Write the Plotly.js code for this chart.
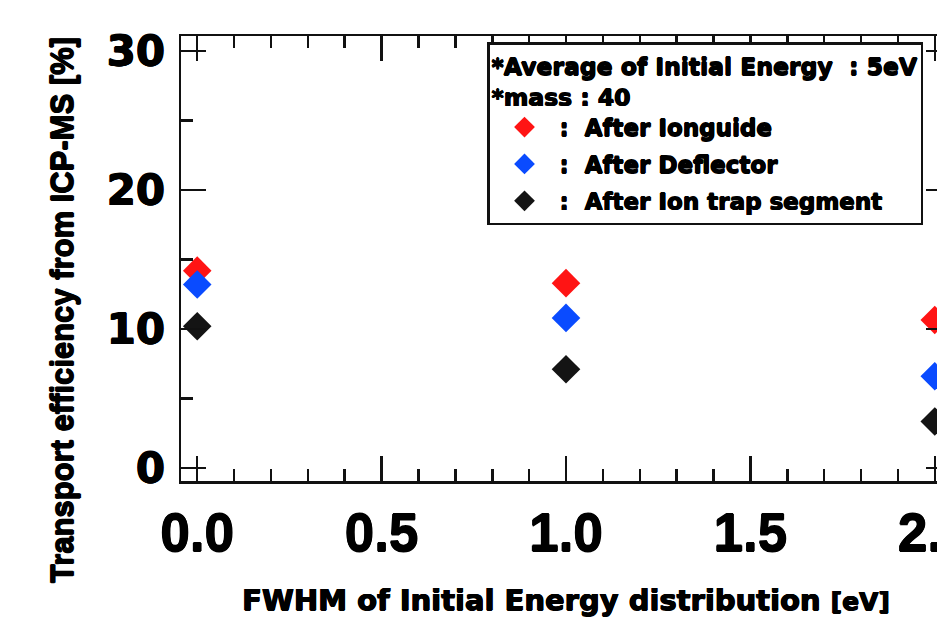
<!DOCTYPE html>
<html><head><meta charset="utf-8">
<script src="https://cdn.plot.ly/plotly-3.0.1.min.js"></script>
<style>html,body{margin:0;padding:0;overflow:hidden;background:#fff;width:937px;height:622px}</style>
</head><body><div id="chart" style="width:1000px;height:622px"></div>
<script>
// ---- data ----
const fwhm = [0.0, 1.0, 2.0];
const afterIonguide = [14.2, 13.3, 10.65];
const afterDeflector = [13.2, 10.8, 6.6];
const afterIonTrap = [10.2, 7.1, 3.35];
const seriesNames = [":  After Ionguide", ":  After Deflector", ":  After Ion trap segment"];
const seriesColors = ["#ff1414", "#0a4bff", "#141414"];
const xTickVals = [0, 0.5, 1.0, 1.5, 2.0];
const xTickText = ["0.0", "0.5", "1.0", "1.5", "2.0"];
const yTickVals = [0, 10, 20, 30];
const yTickText = ["0", "10", "20", "30"];
const legendTitle = "*Average of Initial Energy&nbsp;&nbsp;: 5eV<br>*mass : 40";

const seriesValues = [afterIonguide, afterDeflector, afterIonTrap];
const traces = seriesValues.map((vals, i) => ({
  type: "scatter", mode: "markers",
  x: fwhm, y: vals, name: seriesNames[i], legendgroup: "g" + i,
  marker: {symbol: "diamond", size: 22, color: seriesColors[i], line: {width: 0}},
  cliponaxis: false
}));

const W = 1000, H = 622;
const margin = {l: 181, r: 49, t: 36, b: 141};
const pw = W - margin.l - margin.r, ph = H - margin.t - margin.b;
const px2x = p => (p - margin.l) / pw;
const px2y = p => (H - margin.b - p) / ph;
const heavy = "0.6px 0 0 #000, -0.6px 0 0 #000, 0 0.6px 0 #000, 0 -0.6px 0 #000";

const axisCommon = {
  showline: true, linecolor: "#111", linewidth: 2.5, mirror: "allticks",
  ticks: "inside", ticklen: 25, tickwidth: 2.5, tickcolor: "#111",
  showgrid: false, zeroline: false, fixedrange: true
};

const layout = {
  width: W, height: H, margin: margin,
  paper_bgcolor: "#fff", plot_bgcolor: "#fff",
  showlegend: true,
  xaxis: Object.assign({}, axisCommon, {
    range: [-0.044, 2.044], tickvals: xTickVals, ticktext: xTickText,
    tickfont: {family: "Liberation Sans, Arial, sans-serif", size: 53, color: "#000", weight: "bold", shadow: heavy},
    ticklabelstandoff: 4, ticklabeloverflow: "allow",
    minor: {dtick: 0.1, ticks: "inside", ticklen: 12, tickwidth: 2.5, tickcolor: "#111", showgrid: false},
    title: {text: "FWHM of Initial Energy distribution <span style='font-size:25px'>[eV]</span>",
      font: {family: "DejaVu Sans, sans-serif", size: 29, color: "#000", weight: "bold", shadow: heavy}, standoff: 29},
    automargin: false
  }),
  yaxis: Object.assign({}, axisCommon, {
    range: [-0.935, 31.08], tickvals: yTickVals, ticktext: yTickText,
    tickfont: {family: "DejaVu Sans, sans-serif", size: 42, color: "#000", weight: "bold", shadow: heavy},
    ticklabelstandoff: 5,
    minor: {dtick: 5, ticks: "inside", ticklen: 12, tickwidth: 2.5, tickcolor: "#111", showgrid: false},
    automargin: false
  }),
  legend: {
    x: px2x(487), y: px2y(42), xanchor: "left", yanchor: "top",
    bgcolor: "#fff", bordercolor: "#111", borderwidth: 2.5,
    font: {family: "DejaVu Sans, sans-serif", size: 23, color: "#000", weight: "bold", shadow: heavy},
    title: {text: legendTitle, font: {family: "DejaVu Sans, sans-serif", size: 23.5, color: "#000", weight: "bold", shadow: heavy}},
    traceorder: "grouped", tracegroupgap: 4, itemwidth: 60
  },
  annotations: [{
    text: "Transport efficiency from ICP-MS [%]", textangle: -90,
    xref: "paper", yref: "paper", x: px2x(62), y: px2y(310),
    xanchor: "center", yanchor: "middle", showarrow: false,
    font: {family: "Liberation Sans, Arial, sans-serif", size: 31, color: "#000", weight: "bold", shadow: heavy}
  }]
};

Plotly.newPlot("chart", traces, layout, {displayModeBar: false, staticPlot: true});
</script></body></html>
